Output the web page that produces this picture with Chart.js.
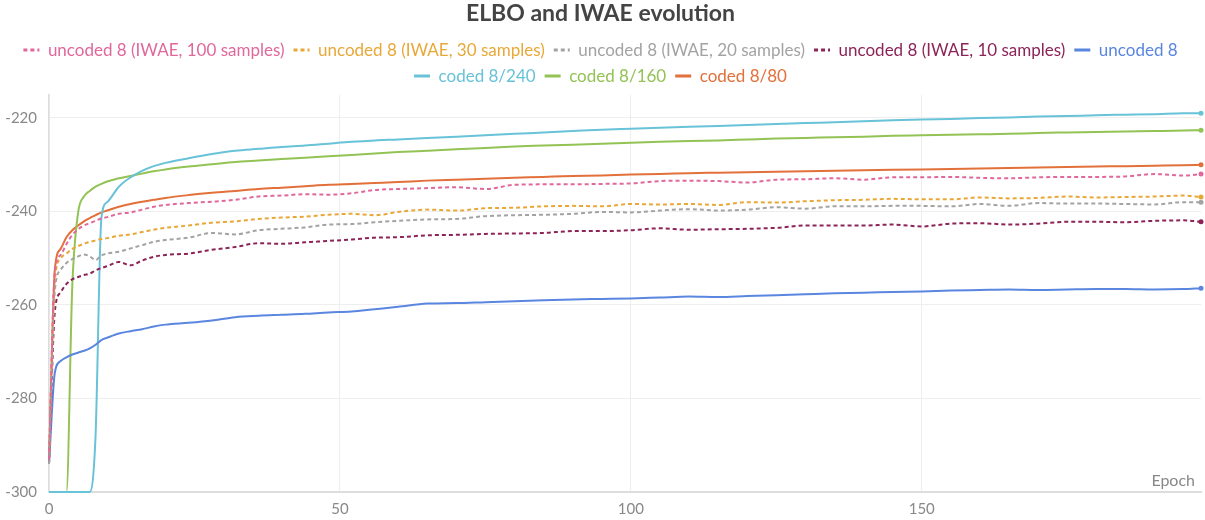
<!DOCTYPE html>
<html>
<head>
<meta charset="utf-8">
<script src="https://cdn.jsdelivr.net/npm/chart.js@4.4.0/dist/chart.umd.min.js"></script>
<style>
  html, body { margin: 0; padding: 0; background: #fff; }
  #wrap { width: 1205px; height: 520px; }
</style>
</head>
<body>
<div id="wrap"><canvas id="elboChart"></canvas></div>
<script>
const epochs = [0, 1, 2, 3, 4, 5, 6, 7, 8, 9, 10, 12, 14, 16, 18, 20, 24, 28, 32, 36, 40, 44, 48, 52, 56, 60,
  65, 70, 75, 80, 85, 90, 95, 100, 105, 110, 115, 120, 125, 130, 135, 140, 145, 150, 155, 160, 165, 170,
  175, 180, 185, 190, 195, 198];

const xTicks = [0, 50, 100, 150];
const yTicks = [-300, -280, -260, -240, -220];

const iwae100 = [-293, -253, -249.3, -247, -245, -243.8, -243, -242.5, -242, -241.5, -241.2, -240.5, -240.2, -239.6, -239, -238.6,
  -238.2, -237.9, -237.5, -236.8, -236.6, -236.3, -236.4, -236.1, -235.4, -235.2, -235.0, -234.8, -235.2, -234.3, -234.2, -234.2,
  -234.1, -234.0, -233.5, -233.4, -233.5, -233.8, -233.2, -233.1, -232.9, -233.2, -232.7, -232.7, -232.6, -232.8, -232.9, -232.7,
  -232.6, -232.6, -232.5, -232.0, -232.3, -232.0];
const iwae30 = [-293, -255, -250, -249, -248, -247.4, -246.9, -246.5, -246.2, -245.9, -245.7, -245.2, -244.9, -244.4, -243.9, -243.5,
  -243.0, -242.4, -242.1, -241.6, -241.3, -241.1, -240.7, -240.5, -240.8, -240.1, -239.6, -239.8, -239.3, -239.2, -238.9, -238.8,
  -238.9, -238.4, -238.5, -238.4, -238.6, -238.0, -238.1, -237.8, -237.6, -237.5, -237.3, -237.4, -237.4, -237.0, -237.2, -237.1,
  -236.8, -237.0, -236.9, -236.8, -236.6, -236.9];
const iwae20 = [-294, -257, -252.5, -251, -250.2, -249.6, -249.2, -249.6, -250.4, -249.4, -249.0, -248.6, -247.9, -247.2, -246.5, -246.1,
  -245.6, -244.6, -244.9, -244.0, -243.7, -243.4, -242.8, -242.7, -242.3, -242.0, -241.7, -241.6, -241.0, -240.8, -240.7, -240.5,
  -240.1, -240.2, -239.8, -239.5, -239.8, -239.6, -239.1, -239.4, -238.9, -238.9, -238.8, -238.8, -238.9, -238.4, -238.8, -238.2,
  -238.3, -238.3, -238.4, -238.5, -238.0, -238.0];
const iwae10 = [-294, -261.5, -257.3, -255.5, -254.5, -254, -253.6, -253.3, -252.6, -252.1, -251.7, -250.8, -251.5, -250.5, -249.7, -249.3,
  -249.0, -248.2, -247.6, -246.8, -246.9, -246.6, -246.3, -246.0, -245.6, -245.5, -245.1, -245.0, -244.8, -244.7, -244.6, -244.2,
  -244.2, -244.0, -243.6, -243.9, -243.8, -243.7, -243.5, -243.0, -243.0, -243.0, -242.8, -243.2, -242.6, -242.5, -242.8, -242.6,
  -242.2, -242.2, -242.3, -242.0, -241.9, -242.2];
const uncoded8 = [-294, -274.5, -272, -271.2, -270.6, -270.2, -269.8, -269.3, -268.5, -267.5, -267, -266.1, -265.6, -265.2, -264.6, -264.2,
  -263.8, -263.3, -262.6, -262.3, -262.1, -261.9, -261.6, -261.4, -260.9, -260.4, -259.7, -259.6, -259.4, -259.2, -259.0, -258.8,
  -258.7, -258.6, -258.4, -258.2, -258.3, -258.1, -257.9, -257.7, -257.5, -257.4, -257.2, -257.1, -256.9, -256.8, -256.7, -256.8,
  -256.7, -256.6, -256.6, -256.7, -256.6, -256.4];
const coded240 = [-300, -300, -300, -300, -300, -300, -300, -300, -288, -241.5, -238.0, -234.7, -232.7, -231.3, -230.3, -229.6,
  -228.6, -227.7, -227.0, -226.6, -226.2, -225.9, -225.5, -225.1, -224.8, -224.6, -224.3, -224.0, -223.7, -223.4, -223.1, -222.8,
  -222.5, -222.3, -222.1, -221.9, -221.7, -221.5, -221.3, -221.1, -220.9, -220.7, -220.5, -220.3, -220.2, -220.0, -219.9, -219.7,
  -219.6, -219.4, -219.3, -219.2, -219.0, -219.0];
const coded160 = [-300, -300, -300, -300, -256, -240.3, -236.8, -235.6, -234.7, -234.1, -233.6, -232.9, -232.4, -231.9, -231.4, -231.0,
  -230.4, -229.9, -229.4, -229.1, -228.8, -228.5, -228.2, -227.9, -227.6, -227.3, -227.0, -226.7, -226.4, -226.1, -225.9, -225.7,
  -225.5, -225.3, -225.1, -224.9, -224.8, -224.6, -224.4, -224.3, -224.1, -224.0, -223.8, -223.7, -223.6, -223.5, -223.4, -223.2,
  -223.1, -223.0, -222.9, -222.8, -222.7, -222.6];
const coded80 = [-294, -252.5, -248, -245.5, -244, -243, -242.1, -241.4, -240.8, -240.2, -239.8, -239.0, -238.4, -237.9, -237.5, -237.1,
  -236.5, -236.0, -235.6, -235.2, -234.9, -234.6, -234.3, -234.1, -233.9, -233.7, -233.4, -233.2, -233.0, -232.8, -232.6, -232.4,
  -232.3, -232.1, -232.0, -231.8, -231.7, -231.6, -231.5, -231.4, -231.3, -231.2, -231.1, -231.0, -230.9, -230.8, -230.7, -230.6,
  -230.5, -230.4, -230.3, -230.2, -230.1, -230.0];

const series = [
  { label: 'uncoded 8 (IWAE, 100 samples)', values: iwae100, color: '#e0689a', dashed: true },
  { label: 'uncoded 8 (IWAE, 30 samples)', values: iwae30, color: '#e8a838', dashed: true },
  { label: 'uncoded 8 (IWAE, 20 samples)', values: iwae20, color: '#a3a3a3', dashed: true },
  { label: 'uncoded 8 (IWAE, 10 samples)', values: iwae10, color: '#8c2458', dashed: true },
  { label: 'uncoded 8', values: uncoded8, color: '#5a86e0', dashed: false },
  { label: 'coded 8/240', values: coded240, color: '#68c2d8', dashed: false },
  { label: 'coded 8/160', values: coded160, color: '#93c255', dashed: false },
  { label: 'coded 8/80', values: coded80, color: '#e2703a', dashed: false }
];

const FONT = 'Lato, "Noto Sans", sans-serif';

const datasets = series.map(s => ({
  label: s.label,
  data: s.values.map((v, i) => ({ x: epochs[i], y: v })),
  borderColor: s.color,
  backgroundColor: s.color,
  borderWidth: 2,
  borderDash: s.dashed ? [4, 3] : [],
  pointRadius: ctx => ctx.dataIndex === s.values.length - 1 ? 2.5 : 0,
  pointBorderWidth: 0,
  cubicInterpolationMode: 'monotone',
  clip: 4
}));

// draw "Epoch" inside the plot, bottom right
const epochLabel = {
  id: 'epochLabel',
  afterDraw(chart) {
    const { ctx, chartArea } = chart;
    ctx.save();
    ctx.font = '16px ' + FONT;
    ctx.fillStyle = '#888';
    ctx.textAlign = 'right';
    ctx.textBaseline = 'middle';
    ctx.fillText('Epoch', chartArea.right - 6, chartArea.bottom - 11);
    ctx.restore();
  }
};

new Chart(document.getElementById('elboChart'), {
  type: 'line',
  data: { datasets },
  plugins: [epochLabel],
  options: {
    responsive: true,
    maintainAspectRatio: false,
    animation: false,
    layout: { padding: { left: 0, right: 4, top: 0, bottom: 0 } },
    plugins: {
      title: {
        display: true,
        text: 'ELBO and IWAE evolution',
        color: '#444',
        font: { family: FONT, size: 23, weight: 'bold' },
        padding: { top: 0, bottom: 5 }
      },
      legend: {
        position: 'top',
        labels: {
          font: { family: FONT, size: 17 },
          usePointStyle: true,
          pointStyle: 'line',
          pointStyleWidth: 16,
          padding: 9,
          generateLabels(chart) {
            return chart.data.datasets.map((ds, i) => ({
              text: ds.label,
              fillStyle: ds.borderColor,
              strokeStyle: ds.borderColor,
              fontColor: ds.borderColor,
              lineWidth: 3,
              lineDash: ds.borderDash,
              pointStyle: 'line',
              hidden: false,
              datasetIndex: i
            }));
          }
        }
      },
      tooltip: { enabled: false }
    },
    scales: {
      x: {
        type: 'linear',
        min: 0,
        max: 198,
        afterBuildTicks: scale => { scale.ticks = xTicks.map(v => ({ value: v })); },
        afterFit: scale => { scale.height = 28; },
        ticks: { color: '#888', font: { family: FONT, size: 15 }, padding: 8 },
        grid: { color: '#eeeeee', drawTicks: false },
        border: { color: '#dddddd', width: 2 }
      },
      y: {
        min: -300,
        max: -215,
        afterBuildTicks: scale => { scale.ticks = yTicks.map(v => ({ value: v })); },
        afterFit: scale => { scale.width = 49; },
        ticks: { color: '#888', font: { family: FONT, size: 15 }, padding: 12 },
        grid: { color: '#eeeeee', drawTicks: false },
        border: { color: '#dddddd', width: 1.5 }
      }
    }
  }
});
</script>
</body>
</html>
